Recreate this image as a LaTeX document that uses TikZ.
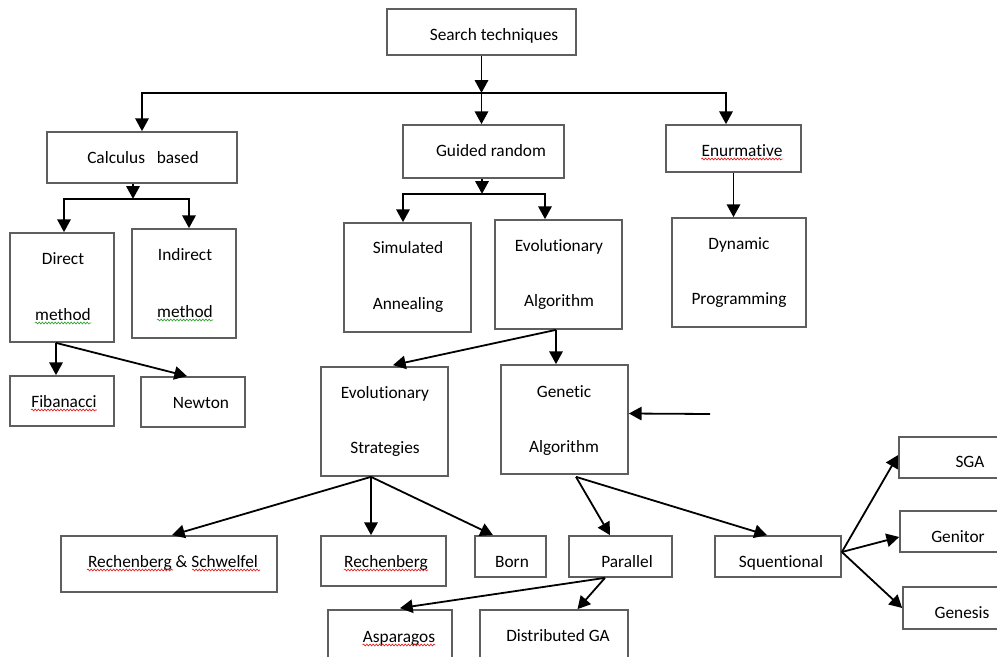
\documentclass[tikz,border=0pt]{standalone}
\usepackage{fontspec}
\setmainfont{Carlito}[Ligatures={NoCommon,NoContextual}]
\usetikzlibrary{arrows.meta,fit,calc,decorations.pathmorphing}
\definecolor{boxgray}{HTML}{5E5E5E}
\definecolor{spellred}{HTML}{E02020}
\definecolor{spellgreen}{HTML}{30A030}
\begin{document}
\begin{tikzpicture}[x=0.75pt,y=-0.75pt,
  box/.style={draw=boxgray, line width=1.3pt, inner sep=0pt},
  lbl/.style={inner sep=0pt, anchor=base, font=\fontsize{13}{15}\selectfont, text=black},
  arr/.style={line width=1.35pt, -{Triangle[width=10pt,length=9.5pt]}},
  wavyred/.style={draw=spellred, line width=0.5pt, decorate, decoration={snake, amplitude=0.7pt, segment length=2.4pt}},
  wavygreen/.style={wavyred, draw=spellgreen}]
\useasboundingbox (0,0) rectangle (997,657);
\clip (0,0) rectangle (997,657);
\fill[white] (0,0) rectangle (997,657);

% boxes
\node[box, fit={(387,9) (576,55)}] (st) {};
\node[box, fit={(47,132) (237,183)}] (cb) {};
\node[box, fit={(403,125) (564,178)}] (gr) {};
\node[box, fit={(666,125) (801,172)}] (en) {};
\node[box, fit={(10,233) (114,342)}] (dm) {};
\node[box, fit={(132,229) (236,338)}] (im) {};
\node[box, fit={(344,223) (471,332)}] (sa) {};
\node[box, fit={(495,220) (622,329)}] (ea) {};
\node[box, fit={(672,218) (806,327)}] (dp) {};
\node[box, fit={(10,376) (114,426)}] (fib) {};
\node[box, fit={(141,377) (245,427)}] (nw) {};
\node[box, fit={(321,367) (448,476)}] (es) {};
\node[box, fit={(501,365) (628,474)}] (ga) {};
\node[box, fit={(61,536) (277,592)}] (rs) {};
\node[box, fit={(321,536) (446,586)}] (rb) {};
\node[box, fit={(475,536) (546,577)}] (born) {};
\node[box, fit={(569,536) (672,577)}] (par) {};
\node[box, fit={(715,536) (841,577)}] (seq) {};
\node[box, fit={(899,437) (1010,478)}] (sga) {};
\node[box, fit={(900,511) (1010,552)}] (gen) {};
\node[box, fit={(903,587) (1010,629)}] (gns) {};
\node[box, fit={(328,610) (452,675)}] (asp) {};
\node[box, fit={(480,610) (628,675)}] (dga) {};

% labels
\node[lbl] (stt) at (494,40) {Search techniques};
\node[lbl] (cbt) at (143,163) {Calculus\ \ \ based};
\node[lbl] (grt) at (491,156) {Guided random};
\node[lbl] (ent) at (742,156) {Enurmative};
\node[lbl] (dmt1) at (63,264) {Direct};
\node[lbl] (dmt2) at (63,320) {method};
\node[lbl] (imt1) at (185,260) {Indirect};
\node[lbl] (imt2) at (185,317) {method};
\node[lbl] (sat1) at (408,253) {Simulated};
\node[lbl] (sat2) at (408,309) {Annealing};
\node[lbl] (eat1) at (559,251) {Evolutionary};
\node[lbl] (eat2) at (559,306) {Algorithm};
\node[lbl] (dpt1) at (739,249) {Dynamic};
\node[lbl] (dpt2) at (739,304) {Programming};
\node[lbl] (fibt) at (64,407) {Fibanacci};
\node[lbl] (nwt) at (201,408) {Newton};
\node[lbl] (est1) at (385,398) {Evolutionary};
\node[lbl] (est2) at (385,453) {Strategies};
\node[lbl] (gat1) at (564,397) {Genetic};
\node[lbl] (gat2) at (564,452) {Algorithm};
\node[lbl] (rst) at (173,567) {Rechenberg \& Schwelfel};
\node[lbl] (rbt) at (386,567) {Rechenberg};
\node[lbl] (bornt) at (512,567) {Born};
\node[lbl] (part) at (627,567) {Parallel};
\node[lbl] (seqt) at (781,567) {Squentional};
\node[lbl] (sgat) at (970,467) {SGA};
\node[lbl] (gent) at (958,542) {Genitor};
\node[lbl] (gnst) at (962,618) {Genesis};
\node[lbl] (aspt) at (399,642) {Asparagos};
\node[lbl] (dgat) at (558,641) {Distributed GA};

% spelling marks
\draw[wavyred] ($(ent.base west)+(0,3)$) -- ($(ent.base east)+(0,3)$);
\draw[wavyred] ($(fibt.base west)+(0,3)$) -- ($(fibt.base east)+(0,3)$);
\draw[wavyred] ($(rbt.base west)+(0,3)$) -- ($(rbt.base east)+(0,3)$);
\draw[wavyred] ($(aspt.base west)+(0,3)$) -- ($(aspt.base east)+(0,3)$);
\draw[wavyred] (87,570) -- (173,570);
\draw[wavyred] (192,570) -- (260,570);
\draw[wavygreen] ($(dmt2.base west)+(0,3)$) -- ($(dmt2.base east)+(0,3)$);
\draw[wavygreen] ($(imt2.base west)+(0,3)$) -- ($(imt2.base east)+(0,3)$);

% connectors: level 1
\coordinate (j1) at ($(st.south)+(0,37)$);
\draw[arr] (st.south) -- (j1);
\draw[arr] (j1) -- (j1 |- gr.north);
\draw[arr] (j1) -| (cb.north);
\draw[arr] (j1) -| ($(en.north)+(-7.5,0)$);

% calculus based
\coordinate (j2) at ($(cb.south)+(-9,15)$);
\draw[arr] ($(cb.south)+(-9,0)$) -- (j2);
\draw[arr] (j2) -| ($(dm.north)+(2,0)$);
\draw[arr] (j2) -| ($(im.north)+(5,0)$);

% guided random
\coordinate (j3) at ($(gr.south)+(-1.5,15)$);
\draw[arr] ($(gr.south)+(-1.5,0)$) -- (j3);
\draw[arr] (j3) -| ($(sa.north)+(-4.5,0)$);
\draw[arr] (j3) -| ($(ea.north)+(-13.5,0)$);

% enumerative
\draw[arr] (en.south) -- (en.south |- dp.north);

% evolutionary algorithm
\draw[arr] ($(ea.south)+(-2.5,0)$) -- ($(es.north)+(8.5,-1)$);
\draw[arr] ($(ea.south)+(-2.5,0)$) -- ($(ga.north)+(-8.5,0)$);

% direct method
\draw[arr] ($(dm.south)+(-6,0)$) -- ($(fib.north)+(-6,0)$);
\draw[arr] ($(dm.south)+(-6,0)$) -- ($(nw.north)+(-6,0)$);

% evolutionary strategies
\draw[arr] ($(es.south)+(-13.5,0)$) -- ($(rs.north)+(3,0)$);
\draw[arr] ($(es.south)+(-13.5,0)$) -- ($(rb.north)+(-12.5,0)$);
\draw[arr] ($(es.south)+(-13.5,0)$) -- ($(born.north)+(-17.5,0)$);

% genetic algorithm
\draw[arr] ($(ga.south)+(11.5,2)$) -- ($(par.north)+(-10.5,0)$);
\draw[arr] ($(ga.south)+(11.5,2)$) -- ($(seq.north)+(-11,0)$);

% parallel
\draw[arr] ($(par.south)+(-15.5,0)$) -- ($(asp.north)+(10,-1)$);
\draw[arr] ($(par.south)+(-15.5,0)$) -- ($(dga.north)+(23.5,0)$);

% sequential
\draw[arr] ($(seq.east)+(0,-4.5)$) -- ($(sga.west)+(0,-2.5)$);
\draw[arr] ($(seq.east)+(0,-4.5)$) -- ($(gen.west)+(0,5.5)$);
\draw[arr] ($(seq.east)+(0,-4.5)$) -- (gns.west);

% free arrow into genetic algorithm
\coordinate (free) at (710,414);
\draw[arr] (free) -- ($(ga.east)+(0,-6)$);
\end{tikzpicture}
\end{document}
